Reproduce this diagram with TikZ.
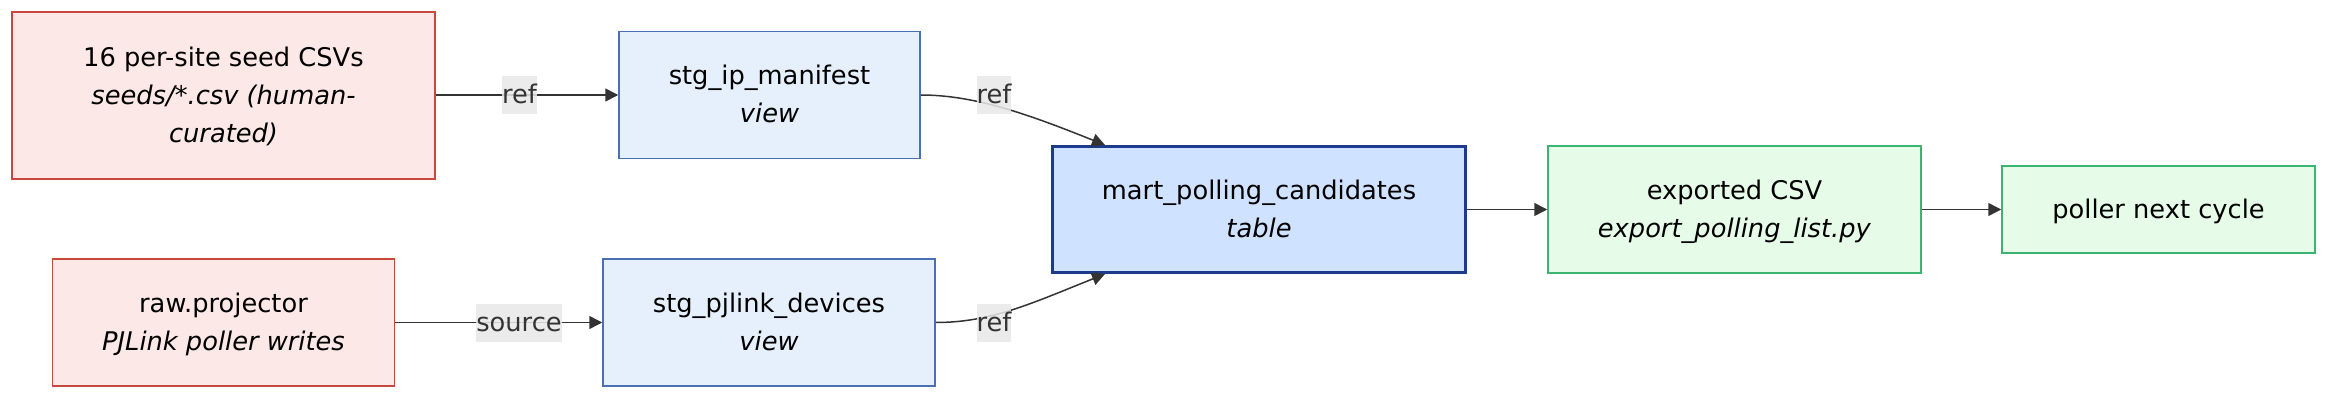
\documentclass[tikz,border=0pt]{standalone}
\usepackage{fontspec}
\setmainfont{DejaVu Sans}
\usetikzlibrary{arrows.meta,calc}
\definecolor{pinkfill}{HTML}{FDE8E8}
\definecolor{pinkline}{HTML}{C9483D}
\definecolor{bluefill}{HTML}{E6F0FC}
\definecolor{blueline}{HTML}{4A6FB5}
\definecolor{martfill}{HTML}{CFE2FF}
\definecolor{martline}{HTML}{1E3A8A}
\definecolor{greenfill}{HTML}{E6FCE8}
\definecolor{greenline}{HTML}{3CB371}
\definecolor{edgecol}{HTML}{333333}
\definecolor{lblfill}{HTML}{E8E8E8}
\newcommand{\lnstrut}{\rule[-5.05pt]{0pt}{19pt}}
\tikzset{
  box/.style={draw, rectangle, line width=0.75pt, align=center, inner sep=0pt,
    font=\fontsize{12.85}{19}\selectfont, text=black},
  srcbox/.style={box, fill=pinkfill, draw=pinkline},
  stgbox/.style={box, fill=bluefill, draw=blueline},
  martbox/.style={box, fill=martfill, draw=martline, line width=1.5pt},
  outbox/.style={box, fill=greenfill, draw=greenline},
  conn/.style={draw=edgecol, line width=0.75pt, -{Triangle[length=6.5pt,width=6.5pt]}},
  lbl/.style={fill=lblfill, fill opacity=0.85, text opacity=1, text=edgecol, inner sep=0pt,
    minimum height=19pt, font=\fontsize{12.85}{19}\selectfont},
}
\begin{document}
\begin{tikzpicture}[x=0.5pt,y=-0.5pt]
\useasboundingbox (0,0) rectangle (2352,405);

\node[srcbox, minimum width=211.5pt, minimum height=83.5pt] (seed) at (223.5,95.5)
  {\lnstrut 16 per-site seed CSVs\\\lnstrut\textit{seeds/*.csv (human-}\\\lnstrut\textit{curated)}};
\node[stgbox, minimum width=150.5pt, minimum height=63.5pt] (ip) at (769.5,95)
  {\lnstrut stg\_ip\_manifest\\\lnstrut\textit{view}};
\node[srcbox, minimum width=171pt, minimum height=63.5pt] (raw) at (223.5,322.5)
  {\lnstrut raw.projector\\\lnstrut\textit{PJLink poller writes}};
\node[stgbox, minimum width=166pt, minimum height=63.5pt] (pj) at (769,322.5)
  {\lnstrut stg\_pjlink\_devices\\\lnstrut\textit{view}};
\node[martbox, minimum width=206.5pt, minimum height=63pt] (mart) at (1259,209.5)
  {\lnstrut mart\_polling\_candidates\\\lnstrut\textit{table}};
\node[outbox, minimum width=186.5pt, minimum height=63.5pt] (exp) at (1734.5,209.5)
  {\lnstrut exported CSV\\\lnstrut\textit{export\_polling\_list.py}};
\node[outbox, minimum width=156.5pt, minimum height=43.5pt] (poll) at (2158.5,209.5)
  {\lnstrut poller next cycle};

\coordinate (t1) at ([xshift=27pt]mart.north west);
\coordinate (t2) at ([xshift=27pt]mart.south west);

\path[conn] (seed.east |- ip.west) -- (ip.west);
\path[conn] (raw.east |- pj.west) -- (pj.west);
\path[conn] (ip.east) .. controls +(55,0) and +(-75,-30) .. (t1);
\path[conn] (pj.east) .. controls +(55,0) and +(-75,30) .. (t2);
\path[conn] (mart.east) -- (exp.west);
\path[conn] (exp.east) -- (poll.west);

\node[lbl] (l1) at (519.5,95) {\lnstrut ref};
\node[lbl] (l2) at (519,323) {\lnstrut source};
\node[lbl] (l3) at (994,95) {\lnstrut ref};
\node[lbl] (l4) at (994,323) {\lnstrut ref};
\end{tikzpicture}
\end{document}
